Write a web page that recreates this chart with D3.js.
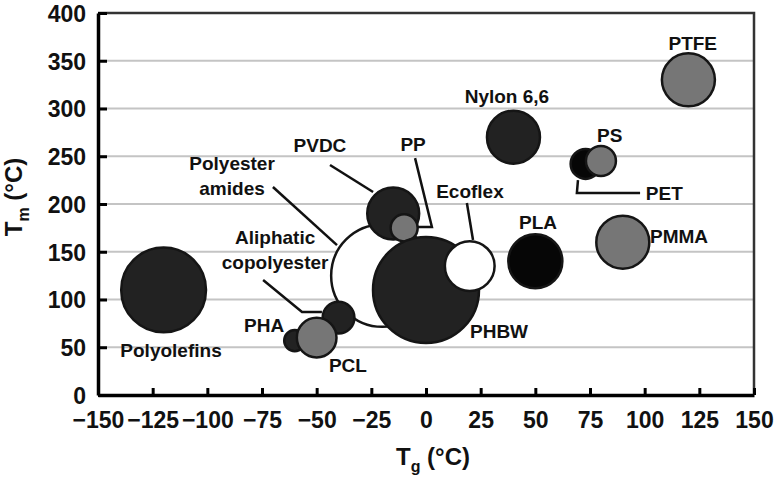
<!DOCTYPE html>
<html>
<head>
<meta charset="utf-8">
<script src="https://cdn.jsdelivr.net/npm/d3@7/dist/d3.min.js"></script>
<style>
  html, body { margin: 0; padding: 0; background: #fff; }
  svg { display: block; }
  text { font-family: "Liberation Sans", Arial, sans-serif; fill: #111; }
</style>
</head>
<body>
<svg id="chart" width="774" height="483"></svg>
<script>
// ---- data ----
const polymers = ["Polyester amides", "Aliphatic copolyester", "PHA", "PCL", "PVDC", "PP", "PHBW", "Ecoflex",
                  "Polyolefins", "PLA", "Nylon 6,6", "PET", "PS", "PMMA", "PTFE"];
const tg = [-20, -40, -60, -50, -15, -10, 0, 20, -120, 50, 40, 73, 80, 90, 120];
const tm = [125, 81, 57, 60, 190, 175, 110, 135, 110, 140, 270, 242, 245, 160, 330];
const bubbleSize = [93, 9, 4, 14, 24, 6.5, 100, 22, 64, 26, 25, 8, 8, 25, 25];
const group = ["white", "dark", "dark", "gray", "dark", "gray", "dark", "white",
               "dark", "black", "dark", "black", "gray", "gray", "gray"];
const xTicks = [-150, -125, -100, -75, -50, -25, 0, 25, 50, 75, 100, 125, 150];
const yTicks = [0, 50, 100, 150, 200, 250, 300, 350, 400];

// label anchors (data coords) and text lines
const labelText = [["Polyester", "amides"], ["Aliphatic", "copolyester"], ["PHA"], ["PCL"], ["PVDC"], ["PP"],
                   ["PHBW"], ["Ecoflex"], ["Polyolefins"], ["PLA"], ["Nylon 6,6"], ["PET"], ["PS"], ["PMMA"], ["PTFE"]];
const labelTg = [-88.7, -69, -74, -35.7, -48.5, -5.9, 33.4, 20.1, -116.6, 51.2, 37, 109, 84, 115.7, 122];
const labelTm = [243, 165.4, 73.3, 31.4, 261.8, 262.8, 67, 213.6, 47, 181, 313, 211.5, 272, 166.5, 368.6];
// leader lines (data coords)
const leaders = [
  [[-70, 217.8], [-40.7, 157]],
  [[-74.5, 120.4], [-56.7, 86.9], [-47.6, 86.9]],
  [[-43.9, 240.8], [-24.2, 212.6]],
  [[-5, 248], [2.7, 176], [-4.1, 176]],
  [[18.7, 201], [21.5, 162.3]],
  [[69.5, 225], [69, 211.5], [97.9, 211.5]]
];

// ---- scales ----
const svg = d3.select("#chart");
const x = d3.scaleLinear().domain([-150, 150]).range([98, 754]);
const y = d3.scaleLinear().domain([0, 400]).range([395, 13]);
const r = d3.scaleSqrt().domain([0, 100]).range([0, 53]);
const fill = d3.scaleOrdinal().domain(["dark", "black", "gray", "white"])
  .range(["#222222", "#060606", "#767676", "#ffffff"]);

// gridlines
svg.append("g").selectAll("line").data(yTicks.filter(v => v > 0 && v < 400)).join("line")
  .attr("x1", x(-150)).attr("x2", x(150))
  .attr("y1", d => y(d)).attr("y2", d => y(d))
  .attr("stroke", "#c4c4c4").attr("stroke-width", 2);

// frame top/right
svg.append("path")
  .attr("d", `M${x(-150)},${y(400)}H${x(150)}V${y(0)}`)
  .attr("fill", "none").attr("stroke", "#333").attr("stroke-width", 2.5);

// axes
const xAxis = svg.append("g").attr("transform", `translate(0,${y(0)})`)
  .call(d3.axisBottom(x).tickValues(xTicks).tickSizeInner(-7).tickSizeOuter(0).tickPadding(17));
const yAxis = svg.append("g").attr("transform", `translate(${x(-150)},0)`)
  .call(d3.axisLeft(y).tickValues(yTicks).tickSizeInner(-9).tickSizeOuter(0).tickPadding(12));
[xAxis, yAxis].forEach(g => {
  g.select(".domain").attr("stroke", "#000").attr("stroke-width", 3.5);
  g.selectAll(".tick line").attr("stroke", "#000").attr("stroke-width", 3);
  g.selectAll(".tick text").attr("fill", "#111").style("font-size", "23px").style("font-weight", "bold")
    .style("font-family", "'Liberation Sans', Arial, sans-serif");
});
yAxis.selectAll(".tick text").attr("dy", "0.36em");

// leaders
const line = d3.line().x(d => x(d[0])).y(d => y(d[1]));
svg.append("g").selectAll("path").data(leaders).join("path")
  .attr("d", line).attr("fill", "none").attr("stroke", "#111").attr("stroke-width", 2.5);

// bubbles
const idx = d3.range(polymers.length);
svg.append("g").selectAll("circle").data(idx).join("circle")
  .attr("cx", i => x(tg[i])).attr("cy", i => y(tm[i])).attr("r", i => r(bubbleSize[i]))
  .attr("fill", i => fill(group[i])).attr("stroke", "#151515").attr("stroke-width", 2.5);

// labels
const lg = svg.append("g").style("font-size", "19px").style("font-weight", "bold");
idx.forEach(i => {
  const lines = labelText[i];
  const t = lg.append("text").attr("text-anchor", "middle")
    .attr("x", x(labelTg[i])).attr("y", y(labelTm[i]));
  lines.forEach((s, k) => {
    t.append("tspan").attr("x", x(labelTg[i])).attr("dy", k === 0 ? "0.35em" : "1.35em").text(s);
  });
});

// axis titles
const xt = svg.append("text").attr("x", 433).attr("y", 465).attr("text-anchor", "middle")
  .style("font-size", "24px").style("font-weight", "bold");
xt.append("tspan").text("T");
xt.append("tspan").attr("dy", 7).style("font-size", "16px").text("g");
xt.append("tspan").attr("dy", -7).text(" (°C)");

const yt = svg.append("text").attr("transform", `translate(22,197) rotate(-90)`).attr("text-anchor", "middle")
  .style("font-size", "24px").style("font-weight", "bold");
yt.append("tspan").text("T");
yt.append("tspan").attr("dy", 7).style("font-size", "16px").text("m");
yt.append("tspan").attr("dy", -7).text(" (°C)");
</script>
</body>
</html>
